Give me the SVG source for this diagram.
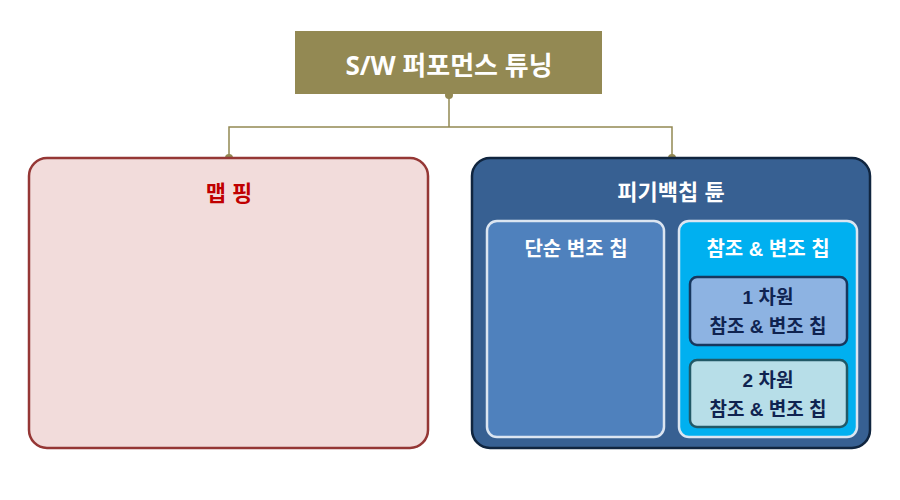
<svg xmlns="http://www.w3.org/2000/svg" width="900" height="500" viewBox="0 0 900 500">
<style>
text{font-family:"Liberation Sans","Noto Sans CJK KR",sans-serif;font-weight:bold;text-anchor:middle}
.w{fill:#fff}
.d{fill:#0f2350;font-size:19px}
.c{stroke:#938953;stroke-width:1.5;fill:none}
.dot{fill:#938953}
</style>
<rect width="900" height="500" fill="#fff"/>
<g id="connectors">
<path class="c" d="M449 95V127H229V158M449 127H672V158"/>
<circle class="dot" cx="449" cy="95" r="4"/>
<circle class="dot" cx="229" cy="158" r="4"/>
<circle class="dot" cx="672" cy="158" r="4"/>
</g>
<g id="root">
<rect x="295" y="31" width="307" height="63" fill="#938953"/>
<text x="449" y="75" class="w" style="font-family:'Open Sans','Noto Sans CJK KR',sans-serif;font-size:26px">S/W 퍼포먼스 튜닝</text>
</g>
<g id="mapping">
<rect x="29" y="158" width="399" height="290" rx="18" fill="#f2dcdb" stroke="#953735" stroke-width="2.5"/>
<text x="229" y="201" fill="#c00000" font-size="22">맵 핑</text>
</g>
<g id="peephole">
<rect x="472" y="158" width="398" height="290" rx="18" fill="#376092" stroke="#10253f" stroke-width="2.5"/>
<text x="671" y="200" class="w" font-size="22">피기백칩 튠</text>
</g>
<g id="simple">
<rect x="487" y="221" width="177" height="216" rx="10" fill="#4f81bd" stroke="#dbe5f1" stroke-width="2.5"/>
<text x="576" y="256" class="w" font-size="20">단순 변조 칩</text>
</g>
<g id="refmod">
<rect x="679" y="221" width="178" height="216" rx="10" fill="#00b0f0" stroke="#dbe5f1" stroke-width="2.5"/>
<text x="768" y="256" class="w" font-size="20">참조 &amp; 변조 칩</text>
</g>
<g id="dim1">
<rect x="690" y="277" width="157" height="68" rx="7" fill="#8db3e2" stroke="#17375e" stroke-width="2.5"/>
<text x="768" y="304" class="d">1 차원</text>
<text x="768" y="333" class="d">참조 &amp; 변조 칩</text>
</g>
<g id="dim2">
<rect x="690" y="360" width="157" height="67" rx="7" fill="#b7dee8" stroke="#215967" stroke-width="2.5"/>
<text x="768" y="387" class="d">2 차원</text>
<text x="768" y="416" class="d">참조 &amp; 변조 칩</text>
</g>
</svg>
